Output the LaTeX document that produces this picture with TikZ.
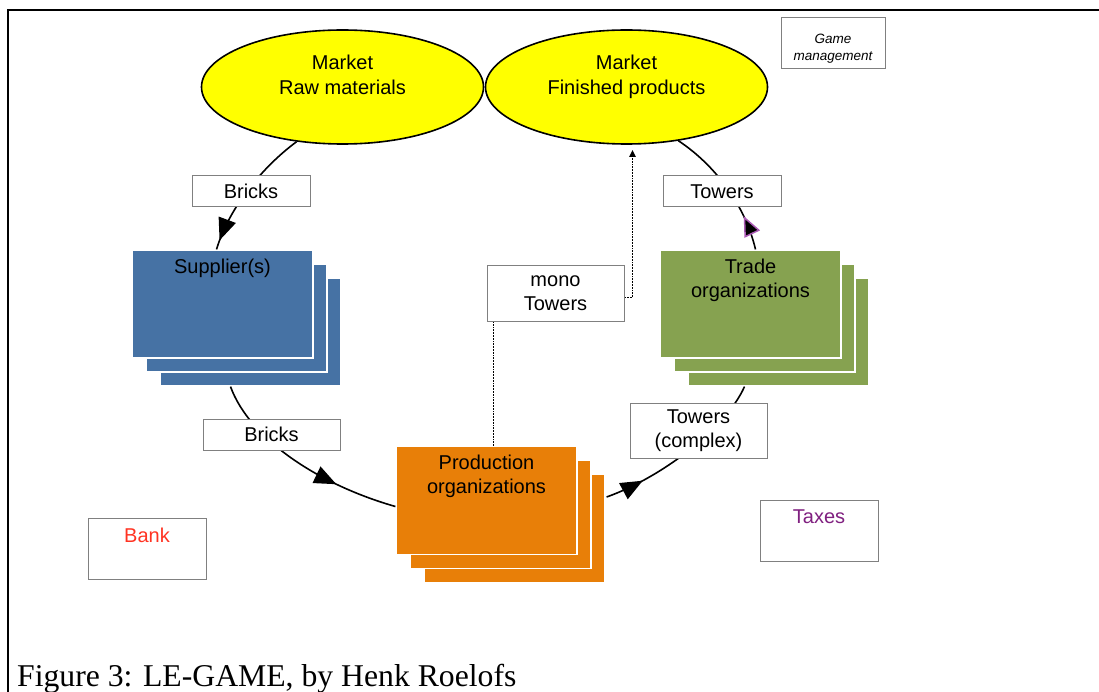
\documentclass[tikz,border=0pt]{standalone}
\usepackage{fontspec}
\setmainfont{Liberation Serif}
\setsansfont{Liberation Sans}
\usetikzlibrary{shapes.geometric,shadows,arrows.meta,decorations.markings,positioning}

\definecolor{marketyellow}{RGB}{255,255,0}
\definecolor{supblue}{RGB}{70,114,164}
\definecolor{tradegreen}{RGB}{134,162,80}
\definecolor{prodorange}{RGB}{232,127,8}
\definecolor{boxgray}{RGB}{128,128,128}
\definecolor{bankred}{RGB}{255,51,34}
\definecolor{taxpurple}{RGB}{128,32,128}
\definecolor{tipmauve}{RGB}{170,90,180}

\tikzset{
  market/.style={ellipse, draw, line width=1.6pt, fill=marketyellow, minimum width=282pt, minimum height=114pt, inner sep=0pt, align=center, font=\sffamily\fontsize{20}{24.5}\selectfont},
  stack/.style={rectangle, fill=#1, draw=white, line width=1.2pt, minimum width=181pt, minimum height=108pt, copy shadow={shadow xshift=28pt, shadow yshift=-28pt}, copy shadow={shadow xshift=14pt, shadow yshift=-14pt}},
  stacktext/.style={anchor=north, align=center, inner sep=0pt, yshift=-9pt, font=\sffamily\fontsize{20}{24}\selectfont},
  tag/.style={rectangle, draw=boxgray, line width=1pt, fill=white, align=center, inner sep=0pt, font=\sffamily\fontsize{20}{24}\selectfont},
  flow/.style={line width=1.6pt},
  dotline/.style={densely dotted, line width=1.8pt},
  headat/.style={postaction={decorate, decoration={markings, mark=at position #1 with {\arrow{Triangle[length=22pt,width=18pt]}}}}},
  headup/.style={postaction={decorate, decoration={markings, mark=at position #1 with {\arrow{Triangle[length=20pt,width=17pt,color=tipmauve,fill=black,line width=1.5pt]}}}}},
}

\begin{document}
\begin{tikzpicture}[x=1pt, y=-1pt]

\useasboundingbox (0,0) rectangle (1099,692);

\draw[line width=1.8pt] (8,692) -- (8,10) -- (1099,10);

\node[market] (raw) at (342.5,87) {Market\\Raw materials\\ \mbox{}};

\node[market] (fin) at (626.5,87) {Market\\Finished products\\ \mbox{}};

\node[tag, minimum width=104pt, minimum height=51pt, label={[anchor=north, align=center, inner sep=0pt, yshift=-16pt, font=\sffamily\itshape\fontsize{13.5}{17}\selectfont]north:Game\\management}] (game) at (833,43.5) {};

\node[stack=supblue, label={[stacktext]north:Supplier(s)}] (sup) at (222.5,304) {};

\node[stack=tradegreen, label={[stacktext]north:Trade\\organizations}] (trade) at (750.5,304) {};

\node[stack=prodorange, label={[stacktext]north:Production\\organizations}] (prod) at (486.5,500.5) {};

\draw[flow, headat=0.93] (raw.230) .. controls (265,165) and (230,205) .. ([xshift=-6pt]sup.north);

\draw[flow, headat=0.7] ([shift={(8,28)}]sup.south) .. controls (250,440) and (320,485) .. ([shift={(0,6)}]prod.west);

\draw[flow, headat=0.22] ([shift={(29,-3.5)}]prod.east) .. controls (660,478) and (725,430) .. ([shift={(-6,28)}]trade.south);

\draw[flow, headup=0.26] ([xshift=5pt]trade.north) .. controls (745,205) and (715,165) .. (fin.314.5);

\node[tag, minimum width=118pt, minimum height=31pt] (bricksup) at (251,191.5) {Bricks};

\node[tag, minimum width=118pt, minimum height=31pt] (towersup) at (722,191.5) {Towers};

\node[tag, minimum width=137pt, minimum height=31pt] (bricksdown) at (271.5,434.5) {Bricks};

\node[tag, minimum width=137pt, minimum height=55pt] (mono) at (555.5,293.5) {mono\\Towers};

\node[tag, minimum width=137pt, minimum height=55pt] (complex) at (698.5,430.5) {Towers\\(complex)};

\coordinate (pluck) at ([xshift=7pt]prod.north);

\draw[dotline] (pluck) -- (pluck |- mono.south);

\draw[dotline, -{Triangle[length=7pt,width=6pt]}] ([yshift=-4pt]mono.east) -| ([shift={(6,5)}]fin.south);

\node[tag, minimum width=118pt, minimum height=61pt, label={[stacktext, yshift=-1pt, text=bankred]north:Bank}] (bank) at (147,548.5) {};

\node[tag, minimum width=118pt, minimum height=61pt, label={[stacktext, yshift=-1pt, text=taxpurple]north:Taxes}] (taxes) at (819,530.5) {};

\node[anchor=base west, inner sep=0pt, font=\fontsize{31.7}{38}\selectfont] (caption) at (17,686) {Figure 3: LE-GAME, by Henk Roelofs};

\end{tikzpicture}
\end{document}
